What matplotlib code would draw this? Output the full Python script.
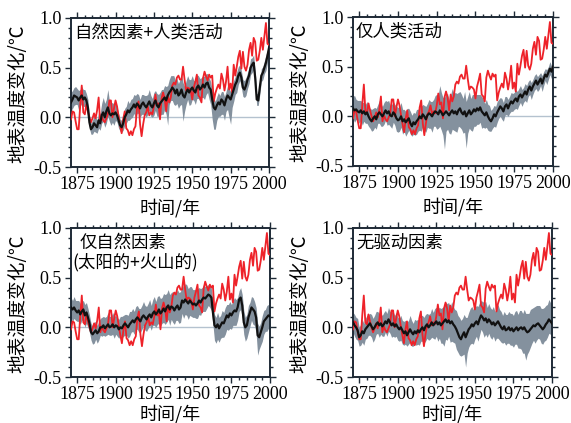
import numpy as np
import matplotlib
matplotlib.use("Agg")
import matplotlib.pyplot as plt
from matplotlib.ticker import MultipleLocator

years = np.arange(1871, 2001)

observed = [
    -0.02, 0.06, 0.05, -0.04, -0.12, -0.12, 0.12, 0.32, 0.05, 0.03,
    0.13, 0.06, 0.0, -0.05, -0.01, 0.04, -0.01, 0.07, 0.2, -0.05,
    0.01, -0.03, -0.05, -0.01, 0.03, 0.17, 0.17, 0.0, 0.09, 0.17,
    0.11, 0.01, -0.08, -0.16, -0.02, 0.06, -0.11, -0.13, -0.18, -0.14,
    -0.18, -0.12, -0.09, 0.09, 0.16, -0.07, -0.19, -0.07, 0.02, 0.05,
    0.11, 0.02, 0.05, 0.03, 0.11, 0.23, 0.12, 0.14, -0.02, 0.19,
    0.25, 0.19, 0.06, 0.22, 0.15, 0.2, 0.32, 0.35, 0.33, 0.4,
    0.42, 0.38, 0.38, 0.51, 0.38, 0.27, 0.3, 0.29, 0.27, 0.18,
    0.3, 0.36, 0.43, 0.22, 0.2, 0.15, 0.39, 0.46, 0.41, 0.37,
    0.43, 0.4, 0.42, 0.16, 0.24, 0.29, 0.33, 0.29, 0.44, 0.38,
    0.27, 0.36, 0.51, 0.28, 0.34, 0.25, 0.53, 0.42, 0.51, 0.61,
    0.67, 0.49, 0.66, 0.51, 0.47, 0.53, 0.68, 0.75, 0.62, 0.8,
    0.76, 0.57, 0.58, 0.67, 0.8, 0.68, 0.82, 0.95, 0.74, 0.73,
]

# Panel 1: natural + anthropogenic
mean_all = [
    0.15, 0.18, 0.22, 0.21, 0.2, 0.17, 0.2, 0.22, 0.18, 0.2,
    0.17, 0.1, -0.05, -0.12, -0.1, -0.06, -0.08, -0.1, -0.03, -0.06,
    0.02, 0.05, 0.0, 0.06, 0.1, 0.04, 0.02, 0.04, 0.03, 0.05,
    0.02, -0.03, -0.08, -0.1, -0.06, 0.0, 0.03, 0.07, 0.05, 0.08,
    0.1, 0.13, 0.1, 0.14, 0.12, 0.09, 0.13, 0.15, 0.12, 0.1,
    0.13, 0.16, 0.12, 0.1, 0.14, 0.17, 0.12, 0.1, 0.14, 0.16,
    0.18, 0.2, 0.17, 0.22, 0.25, 0.27, 0.3, 0.28, 0.24, 0.28,
    0.22, 0.24, 0.28, 0.22, 0.2, 0.25, 0.28, 0.25, 0.28, 0.3,
    0.27, 0.25, 0.3, 0.32, 0.28, 0.3, 0.33, 0.3, 0.34, 0.35,
    0.3, 0.28, 0.18, 0.1, 0.08, 0.12, 0.15, 0.13, 0.18, 0.16,
    0.12, 0.18, 0.22, 0.2, 0.18, 0.23, 0.28, 0.33, 0.36, 0.42,
    0.45, 0.4, 0.3, 0.28, 0.32, 0.38, 0.42, 0.5, 0.53, 0.55,
    0.4, 0.18, 0.17, 0.3, 0.42, 0.45, 0.5, 0.55, 0.62, 0.7,
]
below_all = [
    0.08, 0.09, 0.1, 0.08, 0.07, 0.1, 0.09, 0.08, 0.07, 0.09,
    0.08, 0.07, 0.06, 0.05, 0.07, 0.08, 0.07, 0.06, 0.08, 0.07,
    0.08, 0.09, 0.1, 0.12, 0.09, 0.08, 0.1, 0.09, 0.11, 0.08,
    0.07, 0.08, 0.06, 0.05, 0.07, 0.08, 0.09, 0.1, 0.08, 0.09,
    0.1, 0.09, 0.11, 0.1, 0.08, 0.09, 0.1, 0.12, 0.09, 0.1,
    0.1, 0.09, 0.11, 0.1, 0.12, 0.1, 0.11, 0.09, 0.12, 0.13,
    0.15, 0.12, 0.14, 0.3, 0.12, 0.1, 0.13, 0.15, 0.12, 0.14,
    0.13, 0.12, 0.15, 0.26, 0.14, 0.12, 0.1, 0.13, 0.15, 0.12,
    0.1, 0.12, 0.11, 0.13, 0.12, 0.1, 0.13, 0.12, 0.11, 0.1,
    0.12, 0.15, 0.2, 0.22, 0.2, 0.15, 0.14, 0.12, 0.15, 0.13,
    0.15, 0.12, 0.14, 0.2, 0.25, 0.13, 0.12, 0.1, 0.11, 0.09,
    0.08, 0.1, 0.09, 0.08, 0.1, 0.09, 0.08, 0.07, 0.08, 0.07,
    0.1, 0.06, 0.05, 0.07, 0.06, 0.07, 0.06, 0.08, 0.07, 0.06,
]
above_all = [
    0.1, 0.09, 0.08, 0.1, 0.09, 0.1, 0.08, 0.09, 0.1, 0.08,
    0.07, 0.08, 0.07, 0.06, 0.07, 0.08, 0.09, 0.07, 0.08, 0.1,
    0.12, 0.15, 0.14, 0.12, 0.18, 0.13, 0.12, 0.11, 0.1, 0.12,
    0.08, 0.07, 0.06, 0.07, 0.08, 0.09, 0.08, 0.1, 0.09, 0.1,
    0.09, 0.1, 0.12, 0.1, 0.11, 0.09, 0.1, 0.08, 0.1, 0.12,
    0.1, 0.12, 0.1, 0.09, 0.11, 0.1, 0.12, 0.13, 0.11, 0.12,
    0.1, 0.12, 0.14, 0.1, 0.13, 0.15, 0.12, 0.14, 0.13, 0.11,
    0.12, 0.14, 0.15, 0.13, 0.11, 0.12, 0.14, 0.13, 0.1, 0.12,
    0.1, 0.12, 0.13, 0.1, 0.11, 0.1, 0.09, 0.11, 0.1, 0.09,
    0.1, 0.08, 0.09, 0.1, 0.08, 0.09, 0.1, 0.09, 0.08, 0.1,
    0.09, 0.08, 0.1, 0.09, 0.08, 0.1, 0.09, 0.08, 0.1, 0.09,
    0.08, 0.07, 0.08, 0.09, 0.08, 0.07, 0.08, 0.09, 0.07, 0.08,
    0.07, 0.06, 0.07, 0.08, 0.07, 0.06, 0.07, 0.08, 0.06, 0.07,
]

# Panel 2: anthropogenic only
mean_anth = [
    0.08, 0.06, 0.07, 0.05, 0.04, 0.06, 0.03, 0.05, 0.02, 0.04,
    0.0, -0.03, -0.05, -0.02, 0.0, -0.03, 0.02, 0.04, 0.02, 0.0,
    0.03, 0.06, 0.03, 0.05, 0.01, 0.0, 0.04, 0.02, -0.02, -0.04,
    -0.03, 0.0, -0.05, -0.03, -0.06, -0.04, -0.02, -0.07, -0.1, -0.06,
    -0.08, -0.05, -0.03, 0.0, -0.02, 0.02, 0.0, -0.03, 0.01, 0.03,
    0.02, 0.0, 0.03, 0.05, 0.04, 0.02, 0.06, 0.04, 0.01, 0.03,
    0.05, 0.03, 0.01, 0.04, 0.06, 0.03, 0.05, 0.02, 0.06, 0.08,
    0.04, 0.02, 0.05, 0.0, 0.03, 0.06, 0.02, 0.04, 0.07, 0.05,
    0.08, 0.06, 0.09, 0.05, 0.03, 0.01, 0.04, 0.0, -0.03, -0.05,
    -0.02, 0.02, 0.0, 0.04, 0.07, 0.1, 0.08, 0.05, 0.1, 0.12,
    0.08, 0.12, 0.15, 0.13, 0.16, 0.18, 0.15, 0.2, 0.22, 0.19,
    0.22, 0.25, 0.22, 0.27, 0.3, 0.26, 0.3, 0.33, 0.36, 0.32,
    0.35, 0.38, 0.33, 0.38, 0.42, 0.4, 0.44, 0.48, 0.45, 0.5,
]
below_anth = [
    0.1, 0.12, 0.1, 0.09, 0.11, 0.1, 0.12, 0.1, 0.09, 0.11,
    0.1, 0.09, 0.1, 0.12, 0.11, 0.1, 0.09, 0.11, 0.12, 0.1,
    0.11, 0.1, 0.12, 0.13, 0.11, 0.12, 0.1, 0.11, 0.13, 0.12,
    0.12, 0.11, 0.13, 0.12, 0.14, 0.13, 0.12, 0.11, 0.1, 0.12,
    0.11, 0.13, 0.12, 0.14, 0.13, 0.12, 0.14, 0.13, 0.12, 0.15,
    0.14, 0.16, 0.13, 0.15, 0.17, 0.14, 0.16, 0.18, 0.2, 0.36,
    0.2, 0.16, 0.18, 0.22, 0.19, 0.17, 0.2, 0.18, 0.16, 0.19,
    0.17, 0.19, 0.21, 0.32, 0.2, 0.18, 0.16, 0.19, 0.17, 0.15,
    0.16, 0.14, 0.15, 0.17, 0.14, 0.13, 0.15, 0.14, 0.12, 0.1,
    0.1, 0.12, 0.11, 0.1, 0.09, 0.1, 0.11, 0.1, 0.09, 0.1,
    0.08, 0.09, 0.1, 0.08, 0.09, 0.1, 0.08, 0.09, 0.08, 0.09,
    0.08, 0.09, 0.08, 0.07, 0.08, 0.09, 0.08, 0.07, 0.08, 0.07,
    0.08, 0.07, 0.08, 0.07, 0.06, 0.08, 0.07, 0.06, 0.07, 0.08,
]
above_anth = [
    0.12, 0.15, 0.1, 0.11, 0.12, 0.1, 0.11, 0.09, 0.1, 0.11,
    0.1, 0.11, 0.12, 0.1, 0.09, 0.11, 0.1, 0.12, 0.11, 0.1,
    0.11, 0.1, 0.12, 0.11, 0.1, 0.12, 0.11, 0.1, 0.12, 0.13,
    0.12, 0.14, 0.12, 0.1, 0.11, 0.12, 0.1, 0.12, 0.11, 0.1,
    0.11, 0.12, 0.1, 0.11, 0.12, 0.1, 0.11, 0.13, 0.12, 0.14,
    0.13, 0.15, 0.14, 0.16, 0.18, 0.2, 0.25, 0.2, 0.18, 0.16,
    0.17, 0.2, 0.15, 0.18, 0.22, 0.2, 0.19, 0.21, 0.18, 0.17,
    0.18, 0.16, 0.2, 0.15, 0.17, 0.19, 0.16, 0.18, 0.15, 0.17,
    0.14, 0.16, 0.13, 0.15, 0.14, 0.12, 0.13, 0.12, 0.14, 0.11,
    0.1, 0.09, 0.1, 0.11, 0.1, 0.09, 0.1, 0.09, 0.1, 0.08,
    0.09, 0.08, 0.09, 0.1, 0.08, 0.09, 0.1, 0.08, 0.09, 0.08,
    0.07, 0.08, 0.09, 0.08, 0.07, 0.08, 0.07, 0.08, 0.07, 0.08,
    0.07, 0.06, 0.08, 0.07, 0.06, 0.07, 0.06, 0.07, 0.06, 0.05,
]

# Panel 3: natural only (solar + volcanic)
mean_nat = [
    0.2, 0.18, 0.2, 0.17, 0.15, 0.17, 0.13, 0.16, 0.18, 0.12,
    0.15, 0.1, 0.04, -0.05, -0.07, -0.05, -0.03, -0.06, -0.04, 0.0,
    0.0, 0.02, -0.01, 0.01, 0.03, 0.0, 0.01, 0.03, 0.0, 0.02,
    0.01, -0.02, 0.0, -0.01, 0.02, 0.04, 0.02, 0.0, 0.03, 0.05,
    0.07, 0.05, 0.08, 0.1, 0.08, 0.06, 0.1, 0.12, 0.1, 0.08,
    0.11, 0.13, 0.1, 0.14, 0.16, 0.13, 0.15, 0.18, 0.14, 0.16,
    0.19, 0.16, 0.2, 0.22, 0.18, 0.21, 0.2, 0.17, 0.2, 0.22,
    0.18, 0.2, 0.27, 0.25, 0.28, 0.26, 0.24, 0.27, 0.25, 0.23,
    0.24, 0.22, 0.24, 0.27, 0.25, 0.28, 0.3, 0.29, 0.31, 0.33,
    0.32, 0.3, 0.15, 0.02, 0.0, 0.03, -0.01, 0.02, 0.05, 0.04,
    0.08, 0.12, 0.1, 0.14, 0.12, 0.15, 0.17, 0.16, 0.2, 0.28,
    0.3, 0.22, 0.05, 0.0, 0.02, 0.1, 0.15, 0.2, 0.18, 0.16,
    0.1, -0.08, -0.1, -0.05, 0.0, 0.06, 0.08, 0.1, 0.12, 0.11,
]
below_nat = [
    0.1, 0.12, 0.11, 0.1, 0.09, 0.11, 0.1, 0.09, 0.1, 0.12,
    0.11, 0.1, 0.09, 0.08, 0.1, 0.11, 0.09, 0.1, 0.09, 0.08,
    0.09, 0.1, 0.08, 0.09, 0.1, 0.08, 0.09, 0.1, 0.11, 0.09,
    0.1, 0.09, 0.08, 0.1, 0.11, 0.12, 0.1, 0.11, 0.12, 0.1,
    0.11, 0.12, 0.1, 0.12, 0.13, 0.11, 0.12, 0.1, 0.13, 0.12,
    0.12, 0.11, 0.13, 0.12, 0.14, 0.13, 0.12, 0.14, 0.13, 0.12,
    0.14, 0.13, 0.15, 0.14, 0.16, 0.13, 0.15, 0.14, 0.13, 0.15,
    0.14, 0.15, 0.13, 0.16, 0.15, 0.14, 0.16, 0.15, 0.14, 0.13,
    0.14, 0.13, 0.15, 0.14, 0.13, 0.12, 0.14, 0.13, 0.12, 0.11,
    0.12, 0.13, 0.12, 0.15, 0.16, 0.15, 0.14, 0.13, 0.15, 0.14,
    0.15, 0.14, 0.13, 0.15, 0.14, 0.13, 0.15, 0.14, 0.13, 0.12,
    0.12, 0.13, 0.12, 0.14, 0.13, 0.15, 0.14, 0.13, 0.15, 0.14,
    0.16, 0.2, 0.12, 0.13, 0.14, 0.13, 0.12, 0.14, 0.13, 0.12,
]
above_nat = [
    0.1, 0.09, 0.11, 0.1, 0.12, 0.1, 0.11, 0.1, 0.09, 0.11,
    0.1, 0.09, 0.08, 0.09, 0.08, 0.1, 0.09, 0.08, 0.1, 0.09,
    0.1, 0.09, 0.11, 0.1, 0.12, 0.11, 0.1, 0.12, 0.11, 0.1,
    0.09, 0.1, 0.11, 0.12, 0.1, 0.09, 0.11, 0.12, 0.13, 0.11,
    0.12, 0.11, 0.13, 0.12, 0.11, 0.13, 0.12, 0.14, 0.12, 0.13,
    0.13, 0.15, 0.12, 0.14, 0.15, 0.13, 0.16, 0.14, 0.15, 0.14,
    0.15, 0.17, 0.14, 0.16, 0.15, 0.14, 0.16, 0.17, 0.15, 0.16,
    0.17, 0.16, 0.18, 0.15, 0.16, 0.17, 0.15, 0.14, 0.16, 0.15,
    0.14, 0.16, 0.15, 0.13, 0.14, 0.12, 0.13, 0.12, 0.11, 0.1,
    0.1, 0.09, 0.1, 0.11, 0.1, 0.12, 0.11, 0.1, 0.12, 0.11,
    0.12, 0.11, 0.13, 0.12, 0.11, 0.12, 0.13, 0.12, 0.1, 0.09,
    0.1, 0.11, 0.12, 0.1, 0.11, 0.12, 0.1, 0.11, 0.12, 0.1,
    0.1, 0.12, 0.11, 0.1, 0.12, 0.11, 0.1, 0.12, 0.11, 0.1,
]

# Panel 4: no forcing
mean_none = [
    0.05, 0.02, 0.0, -0.03, -0.1, -0.08, -0.04, -0.06, -0.02, 0.0,
    0.02, 0.04, 0.01, -0.02, 0.0, 0.03, 0.05, 0.02, 0.04, 0.01,
    0.03, 0.06, 0.04, 0.08, 0.05, 0.02, 0.04, 0.01, 0.03, 0.0,
    -0.02, 0.0, -0.03, -0.06, -0.04, -0.08, -0.05, -0.02, -0.05, -0.07,
    -0.04, -0.06, -0.03, -0.05, -0.02, 0.0, -0.03, 0.01, 0.03, 0.0,
    0.02, 0.05, 0.02, 0.04, 0.06, 0.03, 0.05, 0.02, 0.04, 0.06,
    0.08, 0.05, 0.07, 0.04, 0.06, 0.03, 0.01, -0.02, -0.06, -0.1,
    -0.12, -0.08, -0.05, -0.1, -0.06, -0.02, 0.0, 0.03, 0.01, 0.04,
    0.06, 0.03, 0.08, 0.12, 0.1, 0.07, 0.09, 0.05, 0.08, 0.06,
    0.03, 0.05, 0.02, 0.04, 0.06, 0.03, 0.0, -0.02, 0.01, -0.03,
    -0.02, 0.0, -0.03, -0.01, -0.04, -0.02, 0.0, -0.03, -0.01, 0.0,
    -0.02, 0.0, -0.03, -0.05, -0.04, -0.02, 0.0, 0.02, 0.01, 0.03,
    0.04, 0.02, 0.0, -0.02, 0.0, 0.03, 0.05, 0.08, 0.06, 0.04,
]
below_none = [
    0.1, 0.11, 0.12, 0.1, 0.09, 0.1, 0.11, 0.12, 0.1, 0.11,
    0.1, 0.12, 0.11, 0.13, 0.12, 0.1, 0.11, 0.12, 0.11, 0.1,
    0.12, 0.11, 0.13, 0.12, 0.11, 0.12, 0.13, 0.11, 0.12, 0.13,
    0.12, 0.13, 0.14, 0.12, 0.13, 0.11, 0.12, 0.13, 0.14, 0.12,
    0.13, 0.12, 0.14, 0.13, 0.12, 0.14, 0.13, 0.15, 0.14, 0.13,
    0.14, 0.15, 0.13, 0.16, 0.15, 0.17, 0.16, 0.18, 0.2, 0.25,
    0.2, 0.18, 0.16, 0.19, 0.2, 0.18, 0.17, 0.2, 0.19, 0.18,
    0.17, 0.2, 0.22, 0.3, 0.2, 0.18, 0.17, 0.19, 0.18, 0.16,
    0.15, 0.17, 0.16, 0.14, 0.15, 0.17, 0.16, 0.15, 0.14, 0.16,
    0.15, 0.14, 0.16, 0.15, 0.17, 0.16, 0.15, 0.14, 0.16, 0.15,
    0.14, 0.16, 0.15, 0.17, 0.16, 0.15, 0.17, 0.18, 0.2, 0.22,
    0.24, 0.26, 0.3, 0.22, 0.2, 0.18, 0.16, 0.15, 0.17, 0.16,
    0.15, 0.14, 0.16, 0.15, 0.14, 0.16, 0.15, 0.14, 0.13, 0.14,
]
above_none = [
    0.1, 0.11, 0.1, 0.12, 0.1, 0.11, 0.12, 0.1, 0.11, 0.12,
    0.11, 0.1, 0.12, 0.11, 0.12, 0.13, 0.11, 0.12, 0.1, 0.11,
    0.12, 0.11, 0.1, 0.12, 0.11, 0.13, 0.12, 0.11, 0.12, 0.1,
    0.11, 0.12, 0.1, 0.12, 0.11, 0.13, 0.12, 0.14, 0.12, 0.11,
    0.12, 0.13, 0.11, 0.12, 0.14, 0.12, 0.13, 0.12, 0.11, 0.13,
    0.12, 0.14, 0.13, 0.15, 0.14, 0.16, 0.15, 0.17, 0.16, 0.15,
    0.17, 0.19, 0.18, 0.16, 0.2, 0.18, 0.17, 0.19, 0.18, 0.2,
    0.19, 0.17, 0.18, 0.2, 0.16, 0.17, 0.19, 0.18, 0.17, 0.16,
    0.16, 0.18, 0.17, 0.15, 0.16, 0.18, 0.17, 0.15, 0.16, 0.14,
    0.15, 0.16, 0.14, 0.15, 0.17, 0.15, 0.16, 0.14, 0.15, 0.16,
    0.15, 0.16, 0.17, 0.15, 0.16, 0.18, 0.17, 0.16, 0.18, 0.17,
    0.16, 0.18, 0.17, 0.19, 0.18, 0.2, 0.19, 0.18, 0.2, 0.19,
    0.18, 0.2, 0.19, 0.21, 0.2, 0.19, 0.18, 0.2, 0.19, 0.2,
]

titles = [["自然因素+人类活动"], ["仅人类活动"],
          ["仅自然因素", "(太阳的+火山的)"], ["无驱动因素"]]
ylabel = "地表温度变化/℃"
xlabel = "时间/年"
xticks = [1875, 1900, 1925, 1950, 1975, 2000]
yticks = [-0.5, 0.0, 0.5, 1.0]

panels = [
    (mean_all, below_all, above_all),
    (mean_anth, below_anth, above_anth),
    (mean_nat, below_nat, above_nat),
    (mean_none, below_none, above_none),
]

W, H = 571, 423
fig = plt.figure(figsize=(W / 100, H / 100), dpi=100)
# axes boxes in pixels: left, top, width, height
boxes = [(71, 18, 198, 149), (353, 17, 200, 149),
         (71, 228, 199, 149), (353, 228, 199, 149)]

cjk = ["Noto Sans CJK SC", "DejaVu Sans"]
serif = ["Liberation Serif", "DejaVu Serif"]

for i, ((m, dn, up), box) in enumerate(zip(panels, boxes)):
    l, t, w, h = box
    ax = fig.add_axes([l / W, 1 - (t + h) / H, w / W, h / H])
    m = np.array(m)
    lo = m - np.array(dn)
    hi = m + np.array(up)
    ax.axhline(0, color="#b4c2cf", lw=1.0, zorder=1)
    ax.fill_between(years, lo, hi, color="#84919e", lw=0, zorder=2)
    ax.plot(years, observed, color="#ee2229", lw=1.3, zorder=3)
    ax.plot(years, m, color="#111111", lw=1.6, zorder=4)
    ax.set_xlim(1871, 2000)
    ax.set_ylim(-0.5, 1.0)
    ax.set_xticks(xticks)
    ax.set_yticks(yticks)
    ax.set_yticklabels(["-0.5", "0.0", "0.5", "1.0"])
    ax.xaxis.set_minor_locator(MultipleLocator(5))
    ax.yaxis.set_minor_locator(MultipleLocator(0.1))
    ax.tick_params(which="both", direction="out", top=True, right=True,
                   colors="#1e2a36", width=1.0)
    ax.tick_params(which="major", length=4.5, pad=2, labelsize=13,
                   labelcolor="black")
    ax.tick_params(which="minor", length=2.5)
    for lab in ax.get_xticklabels() + ax.get_yticklabels():
        lab.set_family(serif)
    for s in ax.spines.values():
        s.set_linewidth(1.4)
        s.set_color("#1e2a36")
    ax.set_ylabel(ylabel, family=cjk, fontsize=13.5)
    ax.yaxis.set_label_coords(-0.215 if i % 2 == 0 else -0.215, 0.49)
    ax.set_xlabel(xlabel, family=cjk, fontsize=13)
    ax.xaxis.set_label_coords(0.5, -0.215 if i < 2 else -0.185)
    tl = titles[i]
    if len(tl) == 1:
        ax.text(0.015, 0.905, tl[0], transform=ax.transAxes, family=cjk,
                fontsize=12.5, va="center", ha="left")
    else:
        ax.text(0.045, 0.9, tl[0], transform=ax.transAxes, family=cjk,
                fontsize=12.5, va="center", ha="left")
        ax.text(0.005, 0.77, tl[1], transform=ax.transAxes, family=cjk,
                fontsize=12.5, va="center", ha="left")

fig.savefig("out.png", dpi=100)
